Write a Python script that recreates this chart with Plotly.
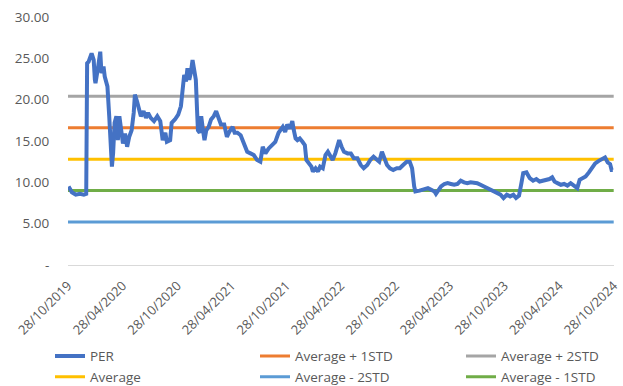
import pandas as pd
import plotly.graph_objects as go

# PER observations: days elapsed since 28/10/2019 and the ratio on that day
obs_day = [
    2, 13, 26, 40, 53, 61, 64, 69, 79, 86, 90, 92, 101, 108, 112, 119, 123, 132, 138, 143,
    147, 151, 156, 162, 167, 172, 178, 184, 191, 198, 205, 213, 220, 224, 231, 238, 244, 253, 261, 268,
    277, 288, 299, 309, 317, 326, 331, 342, 347, 358, 369, 378, 384, 389, 395, 400, 406, 411, 417, 422,
    428, 432, 435, 441, 446, 452, 457, 463, 471, 479, 488, 496, 505, 512, 523, 532, 540, 551, 558, 567,
    578, 589, 600, 611, 622, 633, 644, 652, 661, 672, 683, 694, 705, 710, 719, 727, 734, 743, 751, 756,
    762, 768, 776, 785, 793, 798, 806, 815, 820, 829, 837, 844, 853, 862, 870, 877, 886, 895, 903, 908,
    916, 924, 936, 947, 957, 969, 980, 990, 1002, 1012, 1023, 1035, 1042, 1051, 1060, 1068, 1078, 1089, 1101, 1111,
    1122, 1134, 1144, 1152, 1159, 1163, 1177, 1194, 1205, 1216, 1227, 1232, 1249, 1260, 1271, 1282, 1293, 1304, 1315, 1326,
    1337, 1348, 1359, 1370, 1381, 1392, 1403, 1415, 1425, 1436, 1448, 1458, 1469, 1480, 1491, 1500, 1510, 1518, 1524, 1535,
    1546, 1557, 1568, 1579, 1590, 1601, 1612, 1621, 1629, 1639, 1650, 1661, 1672, 1683, 1694, 1705, 1713, 1722, 1733, 1744,
    1755, 1765, 1777, 1787, 1798, 1807, 1815, 1820, 1824,
]
per_values = [
    9.5, 8.8, 8.5, 8.6, 8.5, 8.6, 24.4, 24.6, 25.6, 24.8, 22.4, 22.0, 24.0, 25.8, 23.2, 24.0, 22.8, 21.6, 18.0, 15.1,
    11.9, 13.5, 17.2, 18.0, 15.1, 18.0, 16.7, 14.7, 15.9, 14.3, 15.5, 16.3, 18.4, 20.6, 19.8, 18.8, 18.0, 18.6, 17.8, 18.4,
    17.8, 17.4, 18.0, 17.4, 15.1, 16.0, 14.9, 15.1, 17.2, 17.6, 18.2, 19.2, 21.6, 23.0, 22.2, 23.8, 22.4, 23.2, 24.8, 23.6,
    22.4, 18.8, 16.3, 16.0, 18.0, 16.3, 15.1, 16.3, 16.7, 17.6, 18.0, 18.6, 17.6, 17.0, 17.0, 15.5, 16.1, 16.7, 16.0, 16.0,
    15.7, 14.8, 13.7, 13.5, 13.3, 12.7, 12.5, 14.3, 13.5, 14.1, 14.5, 14.9, 16.0, 16.3, 16.7, 16.1, 17.0, 16.5, 17.4, 16.3,
    15.3, 15.1, 15.3, 14.9, 14.5, 12.7, 12.3, 11.9, 11.3, 11.7, 11.3, 11.9, 11.7, 13.3, 13.7, 13.3, 12.7, 13.5, 14.3, 15.1,
    14.3, 13.7, 13.5, 13.5, 12.9, 12.9, 12.1, 11.7, 12.1, 12.7, 13.1, 12.7, 12.5, 13.7, 12.9, 12.1, 11.7, 11.5, 11.7, 11.7,
    12.1, 12.5, 12.5, 11.7, 9.5, 8.9, 9.0, 9.2, 9.3, 9.1, 8.9, 8.6, 9.5, 9.8, 9.9, 9.8, 9.7, 9.8, 10.2, 10.0,
    9.9, 10.0, 10.0, 9.9, 9.7, 9.5, 9.3, 9.1, 8.9, 8.7, 8.5, 8.1, 8.5, 8.3, 8.5, 8.1, 8.4, 9.9, 11.1, 11.2,
    10.5, 10.2, 10.4, 10.1, 10.2, 10.2, 10.4, 10.6, 10.1, 9.9, 9.7, 9.8, 9.6, 9.9, 9.6, 9.3, 10.3, 10.5, 10.7, 11.2,
    11.9, 12.3, 12.6, 12.8, 13.0, 12.4, 12.2, 11.5, 11.5,
]

start_date = pd.Timestamp("2019-10-28")
end_date = pd.Timestamp("2024-10-28")
per_dates = start_date + pd.to_timedelta(obs_day, unit="D")

# Band statistics of the PER series
per_average = 12.8
per_std = 3.8

# Date axis labels every six months
tick_dates = pd.date_range(start_date, end_date, freq=pd.DateOffset(months=6))
y_ticks = [0, 5, 10, 15, 20, 25, 30]
y_tick_text = ["-", "5.00", "10.00", "15.00", "20.00", "25.00", "30.00"]

FONT = "Open Sans"
TEXT_COLOR = "#595959"

# (name, level, colour, legend column)
bands = [
    ("Average + 1STD", per_average + per_std, "#ED7D31", "legend2"),
    ("Average + 2STD", per_average + 2 * per_std, "#A5A5A5", "legend3"),
    ("Average", per_average, "#FFC000", "legend"),
    ("Average - 2STD", per_average - 2 * per_std, "#5B9BD5", "legend2"),
    ("Average - 1STD", per_average - per_std, "#70AD47", "legend3"),
]
legend_rows = {"PER": 1, "Average + 1STD": 1, "Average + 2STD": 1,
               "Average": 2, "Average - 2STD": 2, "Average - 1STD": 2}

fig = go.Figure()
for name, level, color, leg in bands:
    fig.add_trace(go.Scatter(
        x=[start_date, end_date], y=[level, level], name=name, mode="lines",
        line=dict(color=color, width=3), legend=leg, legendrank=legend_rows[name],
    ))

# PER drawn last so it sits above the band lines
fig.add_trace(go.Scatter(
    x=per_dates, y=per_values, name="PER", mode="lines",
    line=dict(color="#4472C4", width=4), legend="legend", legendrank=1,
))


def legend_column(x_px):
    # one legend per column; the wide entry forces one item per row
    return dict(
        orientation="h", xref="container", yref="container",
        x=x_px / 623, y=0.117, xanchor="left", yanchor="top",
        entrywidth=340, entrywidthmode="pixels", traceorder="normal",
        font=dict(family=FONT, size=13.5, color=TEXT_COLOR),
        bgcolor="rgba(0,0,0,0)", tracegroupgap=0,
    )


fig.update_layout(
    width=623, height=386,
    margin=dict(l=68, r=1, t=17, b=121),
    paper_bgcolor="white", plot_bgcolor="white",
    font=dict(family=FONT, size=13, color=TEXT_COLOR),
    showlegend=True,
    legend=legend_column(50),
    legend2=legend_column(255),
    legend3=legend_column(461),
    xaxis=dict(
        type="date", range=[start_date, end_date + pd.Timedelta(days=1)],
        tickvals=tick_dates, tickformat="%d/%m/%Y", tickangle=-45,
        ticklabeloverflow="allow",
        showgrid=False, zeroline=False,
        showline=True, linecolor="#D9D9D9", linewidth=1,
        ticks="outside", ticklen=7, tickcolor="rgba(0,0,0,0)",
        tickfont=dict(family=FONT, size=13, color=TEXT_COLOR),
    ),
    yaxis=dict(
        range=[0, 30], tickvals=y_ticks, ticktext=y_tick_text,
        showgrid=False, zeroline=False, showline=False,
        ticks="outside", ticklen=15, tickcolor="rgba(0,0,0,0)",
        tickfont=dict(family=FONT, size=13.5, color=TEXT_COLOR),
    ),
)

fig.write_html("out.html")
